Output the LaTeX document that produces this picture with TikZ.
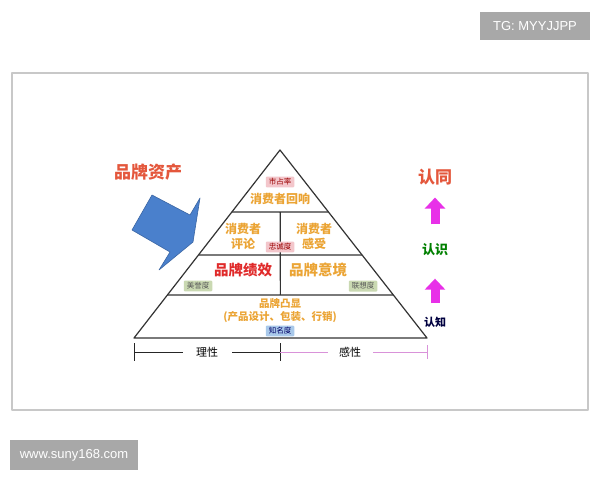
\documentclass[tikz,border=0pt]{standalone}
\usepackage{fontspec}
\setmainfont{Liberation Sans}
\newfontfamily\cjk{Noto Sans CJK SC}
\usetikzlibrary{calc,positioning,arrows.meta}
\definecolor{framegray}{HTML}{C8C8C8}
\definecolor{wmgray}{HTML}{A8A8A8}
\definecolor{gold}{HTML}{EBA434}
\definecolor{brandred}{HTML}{E02A2A}
\definecolor{assetred}{HTML}{E4573C}
\definecolor{arrowblue}{HTML}{4A80CC}
\definecolor{mag}{HTML}{E830E8}
\definecolor{pinktag}{HTML}{F3C6CB}
\definecolor{greentag}{HTML}{CAD9B2}
\definecolor{bluetag}{HTML}{A9C9EA}
\definecolor{sensepink}{HTML}{D992D9}

\begin{document}
\begin{tikzpicture}[x=1pt,y=-1pt,line join=round,
  wm/.style={fill=wmgray,text=white,inner sep=0pt,minimum width=110pt,minimum height=28pt,font=\fontsize{13}{15}\selectfont},
  tag/.style={inner xsep=3pt,inner ysep=2pt,rounded corners=1pt,font=\cjk\fontsize{7.5}{8}\selectfont},
  tier/.style={text=gold,align=center,font=\cjk\bfseries\fontsize{12}{15}\selectfont},
  bigarrow/.style={-{Triangle[width=20pt,length=11pt]},line width=9pt,mag}]
\useasboundingbox (0,0) rectangle (600,480);
\fill[white] (0,0) rectangle (600,480);
\draw[framegray,line width=2.5pt] (12,73) rectangle (588,410);
\node[wm] (tg) at (535,26) {TG: MYYJJPP};
\node[wm,minimum width=128pt,minimum height=30pt] (web) at (74,455) {www.suny168.com};

\coordinate (apex) at (280,150);
\coordinate (bl)   at (134,338);
\coordinate (br)   at (427,338);
\coordinate (l1) at ($(apex)!0.33!(bl)$);  \coordinate (r1) at ($(apex)!0.33!(br)$);
\coordinate (l2) at ($(apex)!0.558!(bl)$); \coordinate (r2) at ($(apex)!0.558!(br)$);
\coordinate (l3) at ($(apex)!0.771!(bl)$); \coordinate (r3) at ($(apex)!0.771!(br)$);
\coordinate (m1) at ($(l1)!0.5!(r1)$);
\coordinate (m3) at ($(l3)!0.5!(r3)$);
\draw[line width=1.2pt,black!80] (apex)--(bl)--(br)--cycle;
\draw[line width=1.2pt,black!80] (l1)--(r1) (l2)--(r2) (l3)--(r3) (m1)--(m3);

\node[tag,fill=pinktag,text=red!60!black] (share) at (280,182) {市占率};
\node[tier] (echo) at (280,199) {消费者回响};
\node[tier] (review) at (243,236) {消费者\\评论};
\node[tier] (feel) at (314,236) {消费者\\感受};
\node[tag,fill=pinktag,text=red!60!black] (loyal) at (280,247) {忠诚度};
\node[tier,text=brandred,font=\cjk\bfseries\fontsize{14.5}{16}\selectfont] (perf) at (243,270) {品牌绩效};
\node[tier,font=\cjk\bfseries\fontsize{14.5}{16}\selectfont] (mood) at (318,270) {品牌意境};
\node[tag,fill=greentag,text=black!65] (repu) at (198,286) {美誉度};
\node[tag,fill=greentag,text=black!65] (assoc) at (363,286) {联想度};
\node[tier,font=\cjk\bfseries\fontsize{10.5}{13}\selectfont] (salience) at (280,311) {品牌凸显\\(产品设计、包装、行销)};
\node[tag,fill=bluetag,text=blue!40!black] (aware) at (280,331) {知名度};

\coordinate (tl) at (134,352);
\coordinate (tm) at (280,352);
\coordinate (tr) at (427,352);
\node[font=\cjk\fontsize{11}{13}\selectfont] (reason) at (207,352) {理性};
\node[font=\cjk\fontsize{11}{13}\selectfont] (sense) at (350,352) {感性};
\draw[black!85,line width=1pt] ($(tl)+(0,-9)$)--($(tl)+(0,9)$) ($(tm)+(0,-9)$)--($(tm)+(0,9)$);
\draw[black!85,line width=1pt] (tl)--(183,352) (232,352)--(tm);
\draw[sensepink,line width=1pt] (tm)--(328,352) (373,352)--(tr) ($(tr)+(0,-7)$)--($(tr)+(0,7)$);

\node[text=assetred,font=\cjk\bfseries\fontsize{17}{19}\selectfont] (asset) at (148,172) {品牌资产};
\filldraw[fill=arrowblue,draw=arrowblue!80!black,line width=0.6pt]
  (152,195)--(190,215)--(200,198)--(193,242)--(159,270)--(170,252)--(132,230)--cycle;

\node[text=assetred,font=\cjk\bfseries\fontsize{17}{19}\selectfont] (agree) at (435,177) {认同};
\node[text=green!50!black,font=\cjk\bfseries\fontsize{13}{15}\selectfont] (know) at (435,250) {认识};
\node[text=blue!25!black,font=\cjk\bfseries\fontsize{11}{13}\selectfont] (cog) at (435,322) {认知};
\draw[bigarrow,shorten <=16pt,shorten >=9pt] (know) -- (agree);
\draw[bigarrow,shorten <=10pt,shorten >=19pt] (cog) -- (know);
\end{tikzpicture}
\end{document}
